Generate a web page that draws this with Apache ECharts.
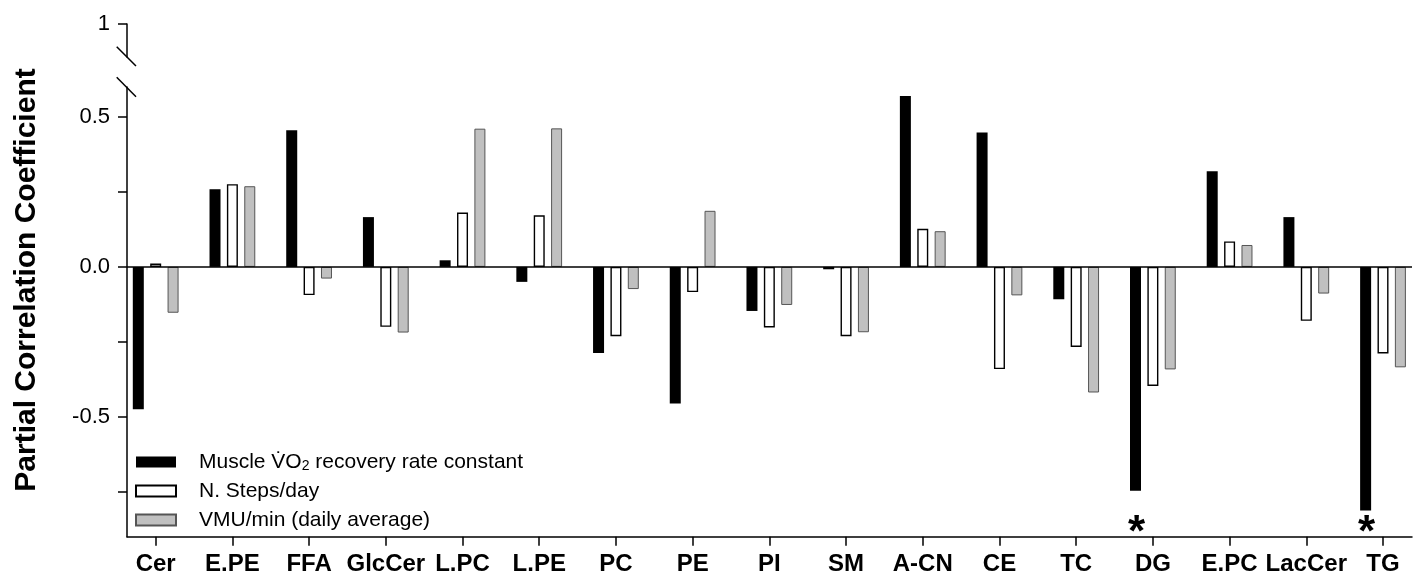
<!DOCTYPE html>
<html>
<head>
<meta charset="utf-8">
<script src="https://cdn.jsdelivr.net/npm/echarts@6/dist/echarts.min.js"></script>
<style>
  html, body { margin: 0; padding: 0; background: #fff; }
  #chart { width: 1416px; height: 581px; }
</style>
</head>
<body>
<div id="chart"></div>
<script>
// Lipid classes on the x axis
const categories = ['Cer', 'E.PE', 'FFA', 'GlcCer', 'L.PC', 'L.PE', 'PC', 'PE', 'PI', 'SM',
                    'A-CN', 'CE', 'TC', 'DG', 'E.PC', 'LacCer', 'TG'];

// Partial correlation coefficients per lipid class
const muscleVO2   = [-0.475, 0.259, 0.456, 0.166, 0.022, -0.050, -0.287, -0.456, -0.147, -0.008,
                     0.570, 0.448, -0.108, -0.747, 0.319, 0.166, -0.813];
const stepsPerDay = [0.011, 0.276, -0.094, -0.200, 0.181, 0.172, -0.231, -0.084, -0.202, -0.231,
                     0.127, -0.341, -0.267, -0.397, 0.085, -0.180, -0.289];
const vmuPerMin   = [-0.153, 0.269, -0.039, -0.219, 0.461, 0.462, -0.074, 0.187, -0.127, -0.218,
                     0.119, -0.095, -0.419, -0.342, 0.073, -0.089, -0.335];

// Classes marked as significant (asterisk under the recovery-rate bar)
const significant = ['DG', 'TG'];
const sigLevel = -0.865;

// Y axis ticks and labels
const yTicks  = [-0.75, -0.5, -0.25, 0, 0.25, 0.5];
const yLabels = [-0.5, 0, 0.5];
const topTicks = [1];

const FONT = '"Liberation Sans", Arial, sans-serif';
const catIdx = categories.map((c, i) => i);
const toPairs = arr => arr.map((v, i) => [i, v]);

const chart = echarts.init(document.getElementById('chart'), null, { renderer: 'canvas' });

const option = {
  backgroundColor: '#fff',
  animation: false,
  grid: [
    { left: 127, right: 4, top: 87, bottom: 44.3, containLabel: false },
    { left: 127, right: 4, top: 24, height: 33, containLabel: false }
  ],
  xAxis: [
    {
      type: 'value', gridIndex: 0,
      min: -0.374, max: 16.378,
      splitLine: { show: false },
      axisLine: { show: true, onZero: false, lineStyle: { color: '#000', width: 1.5 } },
      axisTick: { show: true, length: 9, customValues: catIdx, lineStyle: { color: '#000', width: 1.5 } },
      axisLabel: {
        show: true, customValues: catIdx, margin: 16,
        formatter: v => categories[Math.round(v)],
        color: '#000', fontFamily: FONT, fontSize: 24, fontWeight: 'bold'
      }
    },
    { type: 'value', gridIndex: 1, min: 0, max: 1, show: false }
  ],
  yAxis: [
    {
      type: 'value', gridIndex: 0,
      min: -0.9, max: 0.6,
      splitLine: { show: false },
      axisLine: { show: true, onZero: false, lineStyle: { color: '#000', width: 1.5 } },
      axisTick: { show: true, length: 9, customValues: yTicks, lineStyle: { color: '#000', width: 1.5 } },
      axisLabel: {
        show: true, customValues: yLabels, margin: 17,
        formatter: v => v.toFixed(1),
        color: '#000', fontFamily: FONT, fontSize: 22
      }
    },
    {
      type: 'value', gridIndex: 1,
      min: 0.89, max: 1,
      splitLine: { show: false },
      axisLine: { show: true, onZero: false, lineStyle: { color: '#000', width: 1.5 } },
      axisTick: { show: true, length: 9, customValues: topTicks, lineStyle: { color: '#000', width: 1.5 } },
      axisLabel: {
        show: true, customValues: topTicks, margin: 17,
        formatter: v => String(Math.round(v)),
        color: '#000', fontFamily: FONT, fontSize: 22
      }
    }
  ],
  legend: {
    orient: 'vertical',
    left: 135, top: 450, padding: 0,
    itemWidth: 40, itemHeight: 11, itemGap: 5,
    icon: 'rect',
    textStyle: {
      color: '#000', fontFamily: FONT, fontSize: 21, lineHeight: 24,
      padding: [0, 0, 0, 18],
      rich: {
        sub: { fontFamily: FONT, fontSize: 14, padding: [9, 0, 0, 0], color: '#000' }
      }
    },
    formatter: name => name === 'muscle'
      ? 'Muscle V\u0307O{sub|2} recovery rate constant'
      : name,
    data: ['muscle', 'N. Steps/day', 'VMU/min (daily average)']
  },
  graphic: [
    { type: 'line', silent: true, shape: { x1: 116.7, y1: 46.7, x2: 136, y2: 66 },
      style: { stroke: '#000', lineWidth: 1.5 } },
    { type: 'line', silent: true, shape: { x1: 116.7, y1: 77.3, x2: 136, y2: 96.7 },
      style: { stroke: '#000', lineWidth: 1.5 } },
    { type: 'text', silent: true, x: 26.5, y: 280, rotation: Math.PI / 2,
      style: {
        text: 'Partial Correlation Coefficient',
        fontFamily: FONT, fontSize: 30, fontWeight: 'bold',
        fill: '#000', align: 'center', verticalAlign: 'middle'
      } }
  ],
  series: [
    {
      name: 'muscle', type: 'bar', xAxisIndex: 0, yAxisIndex: 0,
      barWidth: 11, barGap: '58%',
      itemStyle: { color: '#000' },
      data: toPairs(muscleVO2),
      markLine: {
        silent: true, symbol: ['none', 'none'],
        label: { show: false },
        lineStyle: { color: '#000', width: 1.6, type: 'solid' },
        data: [{ yAxis: 0 }]
      },
      markPoint: {
        silent: true, symbol: 'circle', symbolSize: 1,
        itemStyle: { color: 'rgba(0,0,0,0)' },
        label: {
          show: true, position: 'inside', formatter: '*', offset: [1, 8],
          color: '#000', fontFamily: FONT, fontSize: 44, fontWeight: 'bold'
        },
        data: significant.map(c => ({ coord: [categories.indexOf(c), sigLevel] }))
      }
    },
    {
      name: 'N. Steps/day', type: 'bar', xAxisIndex: 0, yAxisIndex: 0,
      barWidth: 11, barGap: '58%',
      itemStyle: { color: '#fff', borderColor: '#000', borderWidth: 1.4 },
      data: toPairs(stepsPerDay)
    },
    {
      name: 'VMU/min (daily average)', type: 'bar', xAxisIndex: 0, yAxisIndex: 0,
      barWidth: 11, barGap: '58%',
      itemStyle: { color: '#c0c0c0', borderColor: '#555', borderWidth: 1 },
      data: toPairs(vmuPerMin)
    }
  ]
};

chart.setOption(option);
</script>
</body>
</html>
